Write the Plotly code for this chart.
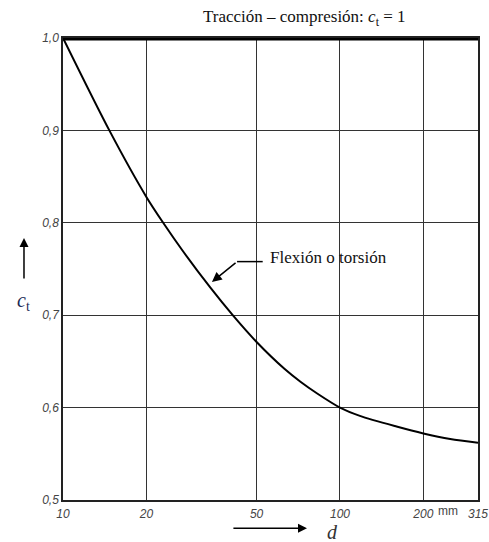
import numpy as np
import plotly.graph_objects as go

# Data
d_vals = [10, 14.7, 20, 23, 27, 34, 41, 50, 63, 72, 83, 100, 118, 160, 200, 250, 315]
ct_vals = [1.0, 0.9, 0.828, 0.8, 0.77, 0.73, 0.7, 0.671, 0.642, 0.628, 0.615, 0.600,
           0.591, 0.5795, 0.572, 0.566, 0.562]

x_ticks = [10, 20, 50, 100, 200, 315]
x_ticktext = ["10", "20", "50", "100", "200", "315"]
y_ticks = [0.5, 0.6, 0.7, 0.8, 0.9, 1.0]
y_ticktext = ["0,5", "0,6", "0,7", "0,8", "0,9", "1,0"]

serif = "Liberation Serif, Times New Roman, serif"
sans = "Liberation Sans, Arial, sans-serif"

fig = go.Figure()
fig.add_trace(go.Scatter(x=d_vals, y=ct_vals, mode="lines",
                         line=dict(color="black", width=2, shape="spline", smoothing=0.8),
                         hoverinfo="skip", showlegend=False))

axis_common = dict(showline=True, linecolor="#222", linewidth=1.5, mirror=True,
                   showgrid=True, gridcolor="#333", gridwidth=1, ticks="",
                   zeroline=False, automargin=False,
                   tickfont=dict(family=sans, size=12, color="#444", style="italic"))

fig.update_xaxes(type="log", range=[1, np.log10(315)], tickvals=x_ticks,
                 ticktext=x_ticktext, ticklabelstandoff=2, **axis_common)
fig.update_yaxes(range=[0.5, 1.0], tickvals=y_ticks, ticktext=y_ticktext, **axis_common)

# Thick line at c_t = 1 (traction-compression)
fig.add_shape(type="line", xref="paper", yref="y", x0=0, x1=1, y0=1.0, y1=1.0,
              line=dict(color="black", width=5))

# Title annotation
fig.add_annotation(xref="paper", yref="paper", x=0.581, y=1.0, yshift=20,
                   text="Tracción – compresión: <i>c</i><sub>t</sub> = 1",
                   showarrow=False, font=dict(family=serif, size=17, color="#111"),
                   xanchor="center", yanchor="middle")

# "mm" unit label between 200 and 315
fig.add_annotation(xref="paper", yref="paper", x=0.927, y=0, yshift=-11,
                   text="mm", showarrow=False,
                   font=dict(family=sans, size=12, color="#444"),
                   xanchor="center", yanchor="middle")

# Flexion label with bent arrow
fig.add_annotation(xref="x", yref="y", x=np.log10(55), y=0.762,
                   text="Flexión o torsión", showarrow=False,
                   font=dict(family=serif, size=17, color="#111"),
                   xanchor="left", yanchor="middle")
fig.add_shape(type="line", xref="x", yref="y",
              x0=42.5, x1=52.6, y0=0.758, y1=0.758,
              line=dict(color="black", width=1.5))
fig.add_annotation(xref="x", yref="y", x=np.log10(34.5), y=0.736,
                   ax=np.log10(42.5), ay=0.758, axref="x", ayref="y",
                   text="", showarrow=True, arrowhead=2, arrowsize=1.3,
                   arrowwidth=1.5, arrowcolor="black")

# Y-axis label c_t with up arrow
fig.add_annotation(xref="paper", yref="paper", x=-0.096, y=0.43,
                   text="<i>c</i><sub>t</sub>", showarrow=False,
                   font=dict(family=serif, size=20, color="#1a2a55"),
                   xanchor="center", yanchor="middle")
fig.add_annotation(xref="x domain", yref="y domain", x=-0.094, y=0.567,
                   ax=-0.094, ay=0.476, axref="x domain", ayref="y domain",
                   text="", showarrow=True, arrowhead=2, arrowsize=1.2,
                   arrowwidth=1.5, arrowcolor="black")

# X-axis label d with right arrow
fig.add_annotation(xref="paper", yref="paper", x=0.65, y=0, yshift=-32,
                   text="<i>d</i>", showarrow=False,
                   font=dict(family=serif, size=20, color="#333"),
                   xanchor="center", yanchor="middle")
fig.add_annotation(xref="x domain", yref="y domain", x=0.588, y=-0.061,
                   ax=0.407, ay=-0.061, axref="x domain", ayref="y domain",
                   text="", showarrow=True, arrowhead=2, arrowsize=1.2,
                   arrowwidth=1.5, arrowcolor="black")

fig.update_layout(width=489, height=542,
                  margin=dict(l=63, r=11, t=38, b=42),
                  plot_bgcolor="white", paper_bgcolor="white",
                  showlegend=False)

fig.write_html("out.html", config={"displayModeBar": False},
               post_script="document.body.style.margin='0';")
